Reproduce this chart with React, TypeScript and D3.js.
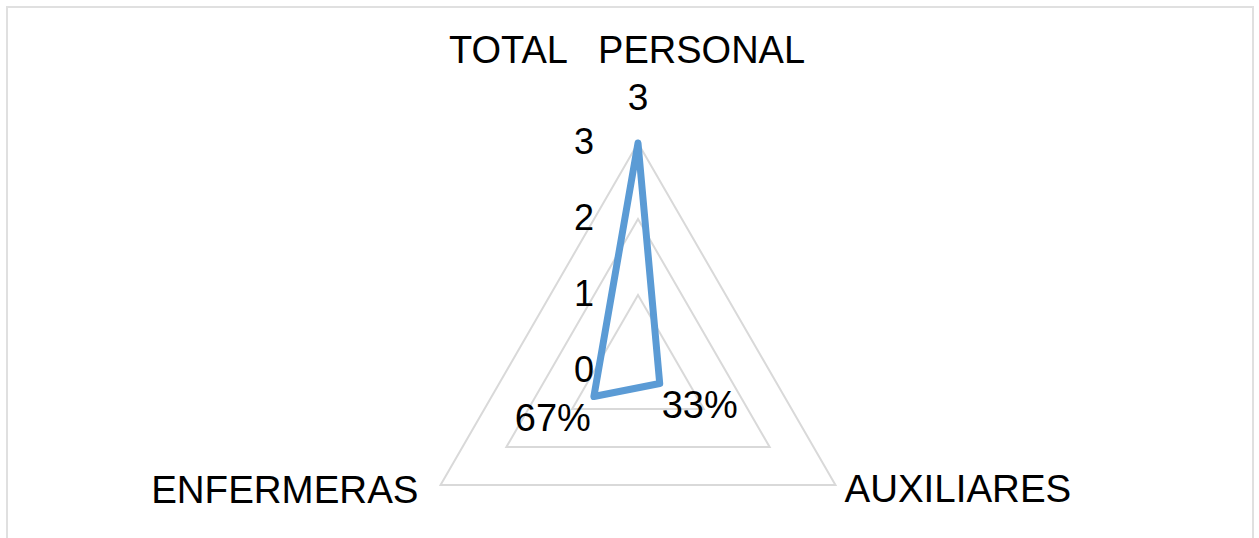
import React from "react";
import * as d3 from "d3";

const categories = ["TOTAL   PERSONAL", "AUXILIARES", "ENFERMERAS"];
const values = [3, 0.33, 0.67];
const valueLabels = ["3", "33%", "67%"];
const tickValues = [0, 1, 2, 3];
const gridLevels = [1, 2, 3];

const W = 1259;
const H = 538;
const cx = 638;
const cy = 371;
const R = 228;
const FONT = "'Liberation Sans', Arial, sans-serif";

export default function App() {
  const r = d3.scaleLinear().domain([0, 3]).range([0, R]);
  const angle = (i: number) => (i * 2 * Math.PI) / categories.length;
  const pt = (i: number, v: number): [number, number] => {
    const a = angle(i) - Math.PI / 2;
    return [cx + r(v) * Math.cos(a), cy + r(v) * Math.sin(a)];
  };

  const radial = d3
    .lineRadial<number>()
    .angle((_, i) => angle(i))
    .radius((d) => r(d))
    .curve(d3.curveLinearClosed);

  const dataPts = values.map((v, i) => pt(i, v));
  const outer = categories.map((_, i) => pt(i, 3));

  return (
    <svg
      width={W}
      height={H}
      style={{ position: "absolute", left: 0, top: 0, background: "#fff" }}
    >
      <rect x={7} y={7} width={1246} height={620} fill="#fff" stroke="#e0e0e0" strokeWidth={2} />
      <g transform={`translate(${cx},${cy})`}>
        {gridLevels.map((lv) => (
          <path
            key={lv}
            d={radial(categories.map(() => lv)) || ""}
            fill="none"
            stroke="#d9d9d9"
            strokeWidth={2}
          />
        ))}
        <path
          d={radial(values) || ""}
          fill="none"
          stroke="#5b9bd5"
          strokeWidth={7}
          strokeLinejoin="round"
          strokeLinecap="round"
        />
      </g>
      {tickValues.map((t) => (
        <text
          key={t}
          x={594}
          y={cy - r(t) + 11}
          textAnchor="end"
          fontFamily={FONT}
          fontSize={36}
          fill="#000"
        >
          {t}
        </text>
      ))}
      <text x={dataPts[0][0]} y={dataPts[0][1] - 33} textAnchor="middle" fontFamily={FONT} fontSize={37}>
        {valueLabels[0]}
      </text>
      <text x={dataPts[1][0] + 2} y={dataPts[1][1] + 34} textAnchor="start" fontFamily={FONT} fontSize={38}>
        {valueLabels[1]}
      </text>
      <text x={dataPts[2][0] - 3} y={dataPts[2][1] + 35} textAnchor="end" fontFamily={FONT} fontSize={38}>
        {valueLabels[2]}
      </text>
      <text
        x={outer[0][0] - 11}
        y={63}
        textAnchor="middle"
        fontFamily={FONT}
        fontSize={38}
        style={{ whiteSpace: "pre" }}
      >
        {categories[0]}
      </text>
      <text x={outer[1][0] + 9} y={outer[1][1] + 17} textAnchor="start" fontFamily={FONT} fontSize={38.5}>
        {categories[1]}
      </text>
      <text x={outer[2][0] - 22} y={outer[2][1] + 18} textAnchor="end" fontFamily={FONT} fontSize={38.5}>
        {categories[2]}
      </text>
    </svg>
  );
}
